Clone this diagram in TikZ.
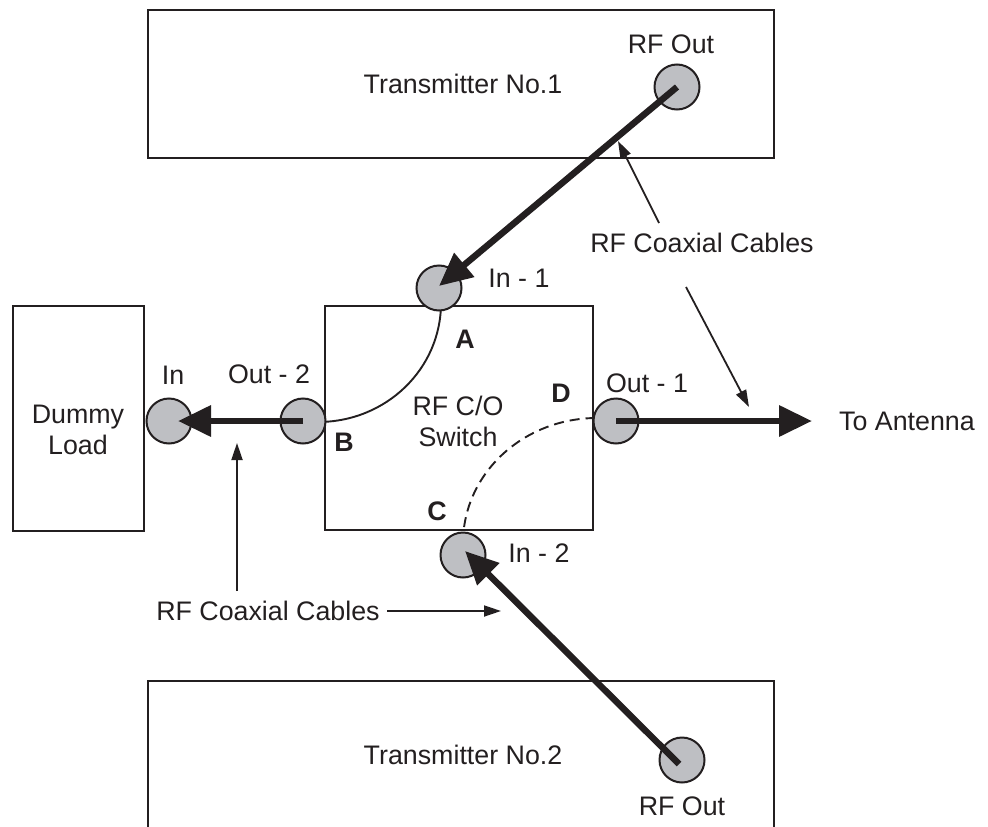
\documentclass[tikz,border=0pt]{standalone}
\usepackage{fontspec}
\setmainfont{Liberation Sans}
\usetikzlibrary{arrows.meta}
\definecolor{ink}{RGB}{35,31,32}
\definecolor{port}{RGB}{190,191,195}
\begin{document}
\begin{tikzpicture}[x=1pt,y=-1pt,
  every node/.style={font=\fontsize{26.8}{31}\selectfont, text=ink, inner sep=0pt, text height=19.3pt, text depth=0pt},
  box/.style={draw=ink, line width=2pt},
  connector/.style={circle, draw=ink, line width=2pt, fill=port, minimum size=45pt},
  letter/.style={font=\fontsize{26.8}{31}\selectfont\bfseries},
  cable/.style={draw=ink, line width=6.5pt, -{Triangle[length=33pt,width=30pt]}},
  pointer/.style={draw=ink, line width=1.8pt, -{Triangle[length=17pt,width=11pt]}},
  link/.style={draw=ink, line width=1.9pt}]
\useasboundingbox (0,0) rectangle (988,827);

% equipment outlines
\draw[box] (148,10) rectangle (774,158);
\draw[box] (13,306) rectangle (144,531);
\draw[box] (325,306) rectangle (593,530);
\draw[box] (148,827) -- (148,681) -- (774,681) -- (774,827);

% box titles
\node (tx1) at (463,84) {Transmitter No.1};
\node (tx2) at (463,755) {Transmitter No.2};
\node[align=center, text height=, text depth=] (dummy) at (78,430) {Dummy\\Load};
\node[align=center, text height=, text depth=] (switch) at (458,421) {RF C/O\\Switch};

% switch internal paths
\coordinate (aEnd) at (441,303);
\coordinate (bEnd) at (318,422);
\coordinate (cEnd) at (463,543);
\coordinate (dEnd) at (597,418);
\draw[link] (aEnd) .. controls (441,369) and (386,422) .. (bEnd);
\draw[link, dash pattern=on 10pt off 6pt] (cEnd) .. controls (463,474) and (523,418) .. (dEnd);

% ports
\node[connector] (rf1) at (677,87) {};
\node[connector] (in1) at (439,288) {};
\node[connector] (out2) at (303,421) {};
\node[connector] (dlin) at (169,421) {};
\node[connector] (out1) at (616,421) {};
\node[connector] (in2) at (463,555) {};
\node[connector] (rf2) at (682,760) {};

% coaxial cables
\coordinate (ant) at (812,421);
\draw[cable] (rf1.center) -- ([yshift=2pt]in1.center);
\draw[cable] (out2.center) -- ([xshift=9pt]dlin.center);
\draw[cable] (out1.center) -- (ant);
\draw[cable] ([shift={(-3pt,-4pt)}]rf2.center) -- ([shift={(2pt,4pt)}]in2.center);

% port labels
\node (lrf1) at (671,44) {RF Out};
\node (lin1) at (519,278) {In - 1};
\node (ldin) at (173,375) {In};
\node (lout2) at (269,374) {Out - 2};
\node (lout1) at (647,383) {Out - 1};
\node (lin2) at (539,553) {In - 2};
\node (lrf2) at (682,806) {RF Out};
\node (lant) at (907,421) {To Antenna};
\node[letter] (la) at (465,339) {A};
\node[letter] (lb) at (344,442) {B};
\node[letter] (lc) at (437,511) {C};
\node[letter] (ld) at (561,393) {D};

% callouts
\node (cc1) at (702,243) {RF Coaxial Cables};
\node (cc2) at (268,611) {RF Coaxial Cables};
\coordinate (p1a) at (659,223);
\coordinate (p1b) at (618,141);
\coordinate (p2a) at (686,287);
\coordinate (p2b) at (749,407);
\coordinate (p3a) at (237,591);
\coordinate (p3b) at (237,443);
\coordinate (p4a) at (387,611);
\coordinate (p4b) at (501,611);
\draw[pointer] (p1a) -- (p1b);
\draw[pointer] (p2a) -- (p2b);
\draw[pointer] (p3a) -- (p3b);
\draw[pointer] (p4a) -- (p4b);
\end{tikzpicture}
\end{document}
